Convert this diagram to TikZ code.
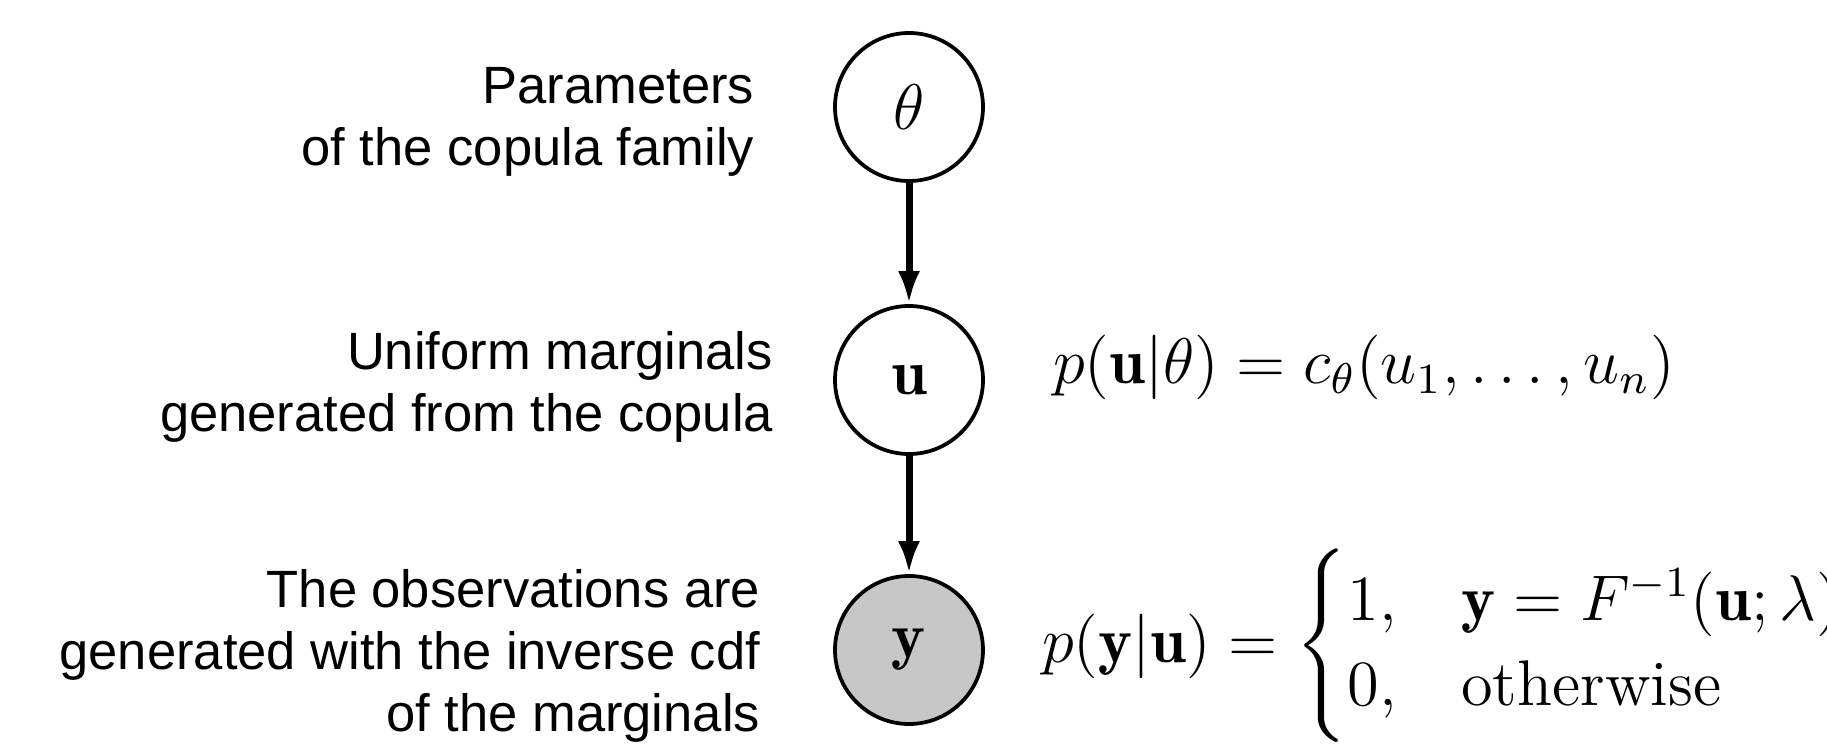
\documentclass[tikz,border=0pt]{standalone}
\usepackage{amsmath}
\usepackage{graphicx}
\usepackage{fontspec}
\newfontfamily\labelfont{Liberation Sans}
\usetikzlibrary{arrows.meta}
\newcommand{\bigmath}[1]{\scalebox{1.075}{#1}}
\tikzset{
  rv/.style={circle, draw=black, line width=0.75pt, minimum size=29.6pt, inner sep=0pt,
             font=\fontsize{12}{14}\selectfont},
  observed/.style={rv, fill=black!22},
  edge/.style={line width=1.4pt, -{Latex[length=6.6pt,width=4.4pt]}},
  desc/.style={anchor=base east, inner sep=0pt, font=\labelfont\fontsize{10.5}{12.4}\selectfont},
  formula/.style={anchor=base west, inner sep=0pt, font=\fontsize{12}{13.2}\selectfont}
}
\begin{document}
\begin{tikzpicture}[x=0.2pt, y=-0.2pt]
\useasboundingbox (0,0) rectangle (1827,745);
\node[rv] (theta) at (909,107) {\bigmath{$\theta$}};
\node[rv] (u) at (909,380) {\bigmath{$\mathbf{u}$}};
\node[observed] (y) at (909,650) {\bigmath{$\mathbf{y}$}};
\draw[edge] (theta) -- (u);
\draw[edge] (u) -- (y);
\node[desc] (l1) at (755,104) {\begin{tabular}[t]{@{}r@{}}Parameters\\ of the copula family\end{tabular}};
\node[desc] (l2) at (774,370) {\begin{tabular}[t]{@{}r@{}}Uniform marginals\\ generated from the copula\end{tabular}};
\node[desc] (l3) at (761,607) {\begin{tabular}[t]{@{}r@{}}The observations are\\ generated with the inverse cdf\\ of the marginals\end{tabular}};
\node[formula] (f1) at (1052,384) {\bigmath{$p(\mathbf{u}|\theta) = c_\theta(u_1,\ldots,u_n)$}};
\node[formula] (f2) at (1041,662) {\bigmath{$\delimitershortfall=-2.5pt p(\mathbf{y}|\mathbf{u}) = \begin{cases} 1, & \mathbf{y} = F^{-1}(\mathbf{u};\lambda)\\ 0, & \text{otherwise}\end{cases}$}};
\end{tikzpicture}
\end{document}
